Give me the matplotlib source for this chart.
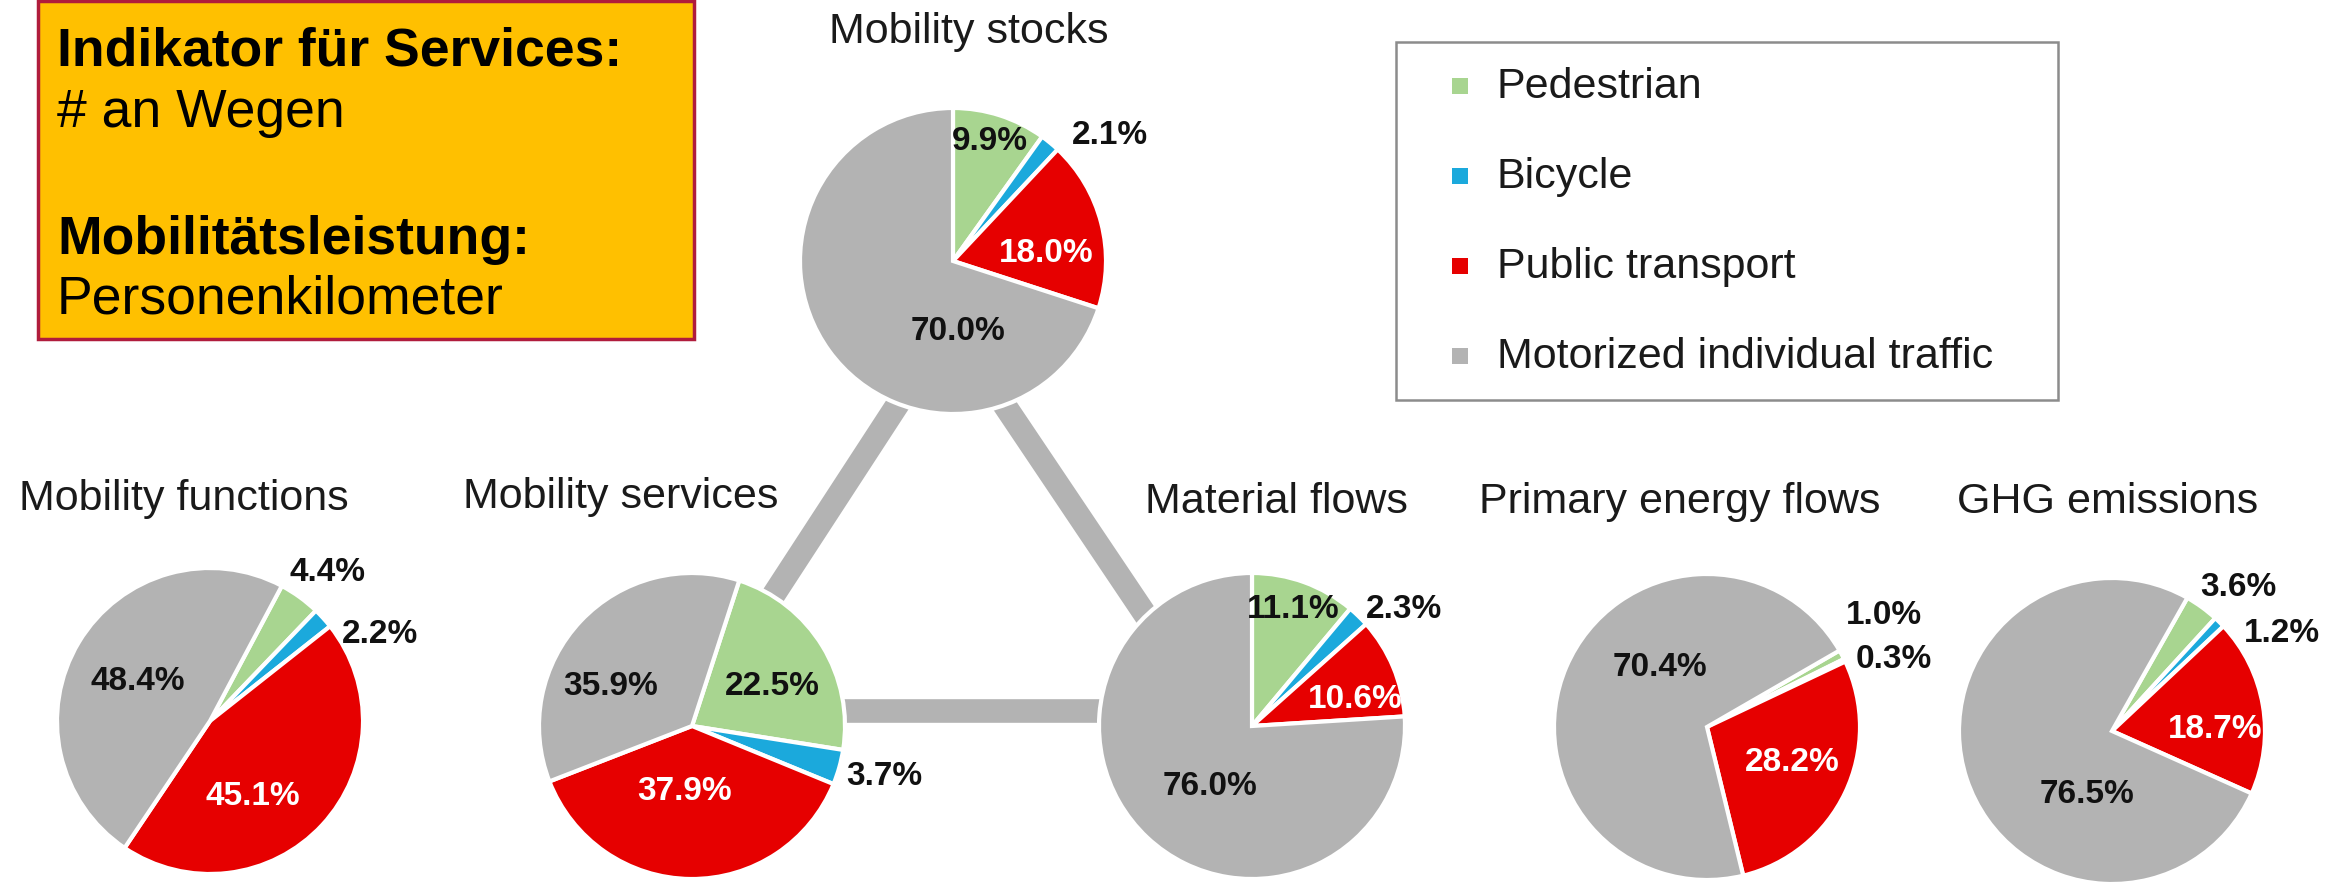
import matplotlib.pyplot as plt
from matplotlib.patches import Rectangle
import numpy as np

plt.rcParams['font.family'] = ['Liberation Sans', 'DejaVu Sans']

# mode shares in percent: pedestrian, bicycle, public transport, car
categories = ['Pedestrian', 'Bicycle', 'Public transport', 'Motorized individual traffic']
colors = ['#a8d590', '#1ba9dc', '#e60000', '#b3b3b3']

titles = ['Mobility stocks', 'Mobility functions', 'Mobility services',
          'Material flows', 'Primary energy flows', 'GHG emissions']
stocks = [9.9, 2.1, 18.0, 70.0]
functions = [4.4, 2.2, 45.1, 48.4]
services = [22.5, 3.7, 37.9, 35.9]
material = [11.1, 2.3, 10.6, 76.0]
energy = [1.0, 0.3, 28.2, 70.4]
ghg = [3.6, 1.2, 18.7, 76.5]
shares = [stocks, functions, services, material, energy, ghg]

W, H = 2334, 887
R = 153  # pie radius in px

# pie centre (px), title centre (px), start angle, label offsets from centre (px)
layout = [
    dict(c=(953, 262), t=(969, 32), start=90,
         lab=[(37, -120), (157, -126), (93, -9), (5, 70)]),
    dict(c=(210, 722), t=(184, 499), start=62,
         lab=[(118, -149), (170, -87), (43, 75), (-72, -40)]),
    dict(c=(692, 727), t=(621, 497), start=72,
         lab=[(80, -40), (192, 50), (-7, 65), (-81, -40)]),
    dict(c=(1252, 727), t=(1276, 502), start=90,
         lab=[(41, -117), (152, -117), (103, -27), (-42, 60)]),
    dict(c=(1707, 728), t=(1680, 502), start=30,
         lab=[(177, -113), (187, -68), (85, 35), (-47, -60)]),
    dict(c=(2112, 732), t=(2108, 502), start=60.5,
         lab=[(126, -145), (170, -99), (103, -2), (-25, 63)]),
]
label_colors = ['#111111', '#111111', 'white', '#111111']

fig = plt.figure(figsize=(W / 100, H / 100), dpi=100)
bg = fig.add_axes([0, 0, 1, 1])
bg.set_xlim(0, W)
bg.set_ylim(H, 0)
bg.axis('off')

# connecting triangle behind the pies
tri_x = [698, 1210, 950, 698]
tri_y = [712, 712, 325, 712]
bg.plot(tri_x, tri_y, color='#b3b3b3', lw=17, solid_joinstyle='miter', zorder=1)

# info box
bg.add_patch(Rectangle((38, 2), 656, 338, facecolor='#ffc000', edgecolor='#b01c3c', lw=2.5))
box_lines = [('Indikator für Services:', 'bold', 52), ('# an Wegen', 'normal', 113),
             ('Mobilitätsleistung:', 'bold', 240), ('Personenkilometer', 'normal', 300)]
for txt, wt, y in box_lines:
    bg.text(57, y, txt, fontsize=38.5, fontweight=wt, va='center', ha='left', color='black')

# legend
bg.add_patch(Rectangle((1396, 43), 662, 358, facecolor='white', edgecolor='#8c8c8c', lw=1.8))
for i, (name, col) in enumerate(zip(categories, colors)):
    y = 87 + i * 90
    bg.add_patch(Rectangle((1452, y - 8), 16, 16, facecolor=col, edgecolor='none'))
    bg.text(1497, y, name, fontsize=31, va='center', ha='left', color='#1a1a1a')

for vals, title, lay in zip(shares, titles, layout):
    cx, cy = lay['c']
    bg.text(lay['t'][0], lay['t'][1], title, fontsize=31, ha='center', va='center', color='#1a1a1a')
    ax = fig.add_axes([(cx - R) / W, 1 - (cy + R) / H, 2 * R / W, 2 * R / H])
    ax.pie(vals, colors=colors, startangle=lay['start'], counterclock=False, radius=1,
           wedgeprops=dict(edgecolor='white', linewidth=3))
    ax.set_xlim(-1, 1)
    ax.set_ylim(-1, 1)
    ax.set_aspect('equal')
    ax.axis('off')
    for v, (dx, dy), lc in zip(vals, lay['lab'], label_colors):
        ax.text(dx / R, -dy / R, f'{v:.1f}%', fontsize=24, fontweight='bold',
                ha='center', va='center', color=lc, clip_on=False)

fig.savefig('out.png', dpi=100, facecolor='white')
